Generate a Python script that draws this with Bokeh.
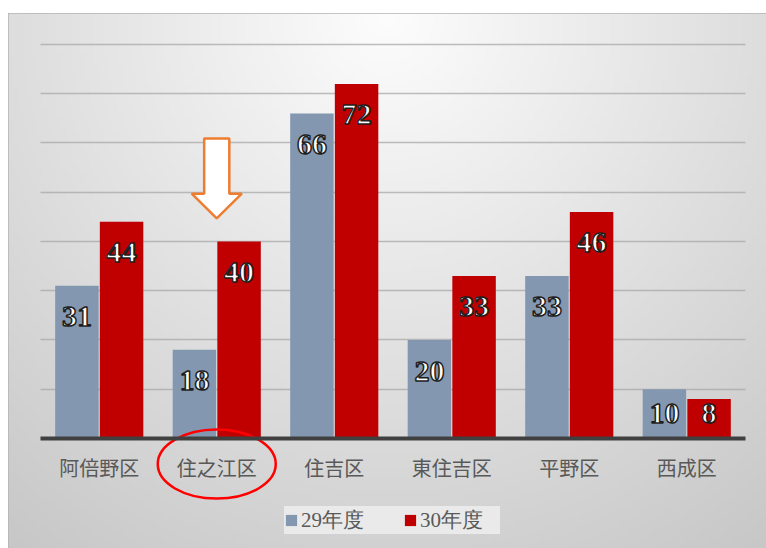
import numpy as np
from bokeh.plotting import figure
from bokeh.models import (Range1d, FixedTicker, ColumnDataSource, Legend, LegendItem, Spacer)
from bokeh.transform import dodge
from bokeh.layouts import column, row
from bokeh.embed import file_html
from bokeh.resources import INLINE
from bokeh.core.properties import value

# ---------------- data ----------------
wards = ["阿倍野区", "住之江区", "住吉区", "東住吉区", "平野区", "西成区"]
fy29 = [31, 18, 66, 20, 33, 10]
fy30 = [44, 40, 72, 33, 46, 8]
series_names = ["29年度", "30年度"]
grid_ticks = [10, 20, 30, 40, 50, 60, 70, 80]
highlight = "住之江区"

# ---------------- style ----------------
BLUE = "#8497B0"
RED = "#C00000"
W, H = 758, 535
X0, X1 = -0.2723, 6.1787
Y0, Y1 = -22.34, 86.29
DODGE = 0.19
BAR_W = 0.37
LABEL_DROP = 6.3
LABEL_MIN = 5.1

p = figure(width=W, height=H, x_range=Range1d(X0, X1), y_range=Range1d(Y0, Y1),
           output_backend="svg", toolbar_location=None,
           min_border=0, min_border_left=0, min_border_right=0,
           min_border_top=0, min_border_bottom=0)
p.outline_line_color = "#b4b4b4"
p.outline_line_width = 1.5
p.background_fill_color = "#e6e6e6"
p.border_fill_color = "white"

# background radial gradient
ny, nx = 120, 160
yy, xx = np.mgrid[0:ny, 0:nx]
fx = (xx + 0.5) / nx
ftop = 1.0 - (yy + 0.5) / ny
d = np.sqrt(((fx - 0.5) / 0.75) ** 2 + (ftop / 1.1) ** 2)
g = (253 - 48 * np.clip(d, 0, 1.15)).astype(np.uint8)
img = np.empty((ny, nx), dtype=np.uint32)
view = img.view(dtype=np.uint8).reshape((ny, nx, 4))
view[..., 0] = g
view[..., 1] = g
view[..., 2] = g
view[..., 3] = 255
p.image_rgba(image=[img], x=X0, y=Y0, dw=X1 - X0, dh=Y1 - Y0, level="image")

# grid
p.xgrid.visible = False
p.ygrid.ticker = FixedTicker(ticks=grid_ticks)
p.ygrid.cross_bounds = (0, len(wards))
p.ygrid.grid_line_color = "#a8a8a8"
p.ygrid.grid_line_width = 1.5
p.ygrid.grid_line_alpha = 0.75

# bars
xc = [i + 0.5 for i in range(len(wards))]
src = ColumnDataSource(dict(
    x=xc, fy29=fy29, fy30=fy30,
    t29=[str(v) for v in fy29], t30=[str(v) for v in fy30],
    ly29=[max(v - LABEL_DROP, LABEL_MIN) for v in fy29],
    ly30=[max(v - LABEL_DROP, LABEL_MIN) for v in fy30],
))
r1 = p.vbar(x=dodge("x", -DODGE, range=p.x_range), top="fy29", width=BAR_W, source=src,
            fill_color=BLUE, line_color=None)
r2 = p.vbar(x=dodge("x", DODGE, range=p.x_range), top="fy30", width=BAR_W, source=src,
            fill_color=RED, line_color=None)

for key, off in (("29", -DODGE), ("30", DODGE)):
    p.text(x=dodge("x", off, range=p.x_range), y="ly" + key, text="t" + key, source=src,
           text_font=value("Liberation Serif"), text_font_style="bold",
           text_font_size="30px", text_color="white",
           text_outline_color="#1e1e1e",
           text_align="center", text_baseline="middle")

# x axis at y = 0
xa = p.xaxis[0]
xa.fixed_location = 0
xa.bounds = (0, len(wards))
xa.ticker = FixedTicker(ticks=xc)
xa.major_label_overrides = {x: w for x, w in zip(xc, wards)}
xa.axis_line_color = "#404040"
xa.axis_line_width = 4
xa.major_tick_line_color = None
xa.minor_tick_line_color = None
xa.major_label_text_font = "Noto Sans CJK JP"
xa.major_label_text_font_size = "20px"
xa.major_label_text_color = "#595959"
xa.major_label_standoff = 9
p.yaxis.visible = False

# highlight annotations
k = wards.index(highlight)
cx = xc[k]
tip = fy30[k] + 4.7
ax_x = [cx - 0.107, cx + 0.107, cx + 0.107, cx + 0.213, cx, cx - 0.213, cx - 0.107]
ax_y = [tip + 16.2, tip + 16.2, tip + 5.0, tip + 5.0, tip, tip + 5.0, tip + 5.0]
p.patch(ax_x, ax_y, fill_color="white", line_color="#ED7D31", line_width=2.5)
p.ellipse(x=[cx], y=[-5.2], width=[118], height=[69], width_units="screen",
          height_units="screen", fill_color=None, line_color="#FF0000", line_width=2.5)

# legend
legend = Legend(items=[LegendItem(label=series_names[0], renderers=[r1]),
                       LegendItem(label=series_names[1], renderers=[r2])],
                orientation="horizontal", location=(276, 14),
                background_fill_color="#eaeaea", background_fill_alpha=1,
                border_line_color=None, glyph_width=14, glyph_height=14,
                label_text_font="Liberation Serif", label_text_font_size="21px",
                label_text_color="#595959", padding=18, spacing=22,
                label_standoff=3, label_width=80, margin=0)
p.add_layout(legend)

layout = row(Spacer(width=8, height=5), column(Spacer(width=W, height=13), p))
open("out.html", "w").write(file_html(layout, INLINE))
